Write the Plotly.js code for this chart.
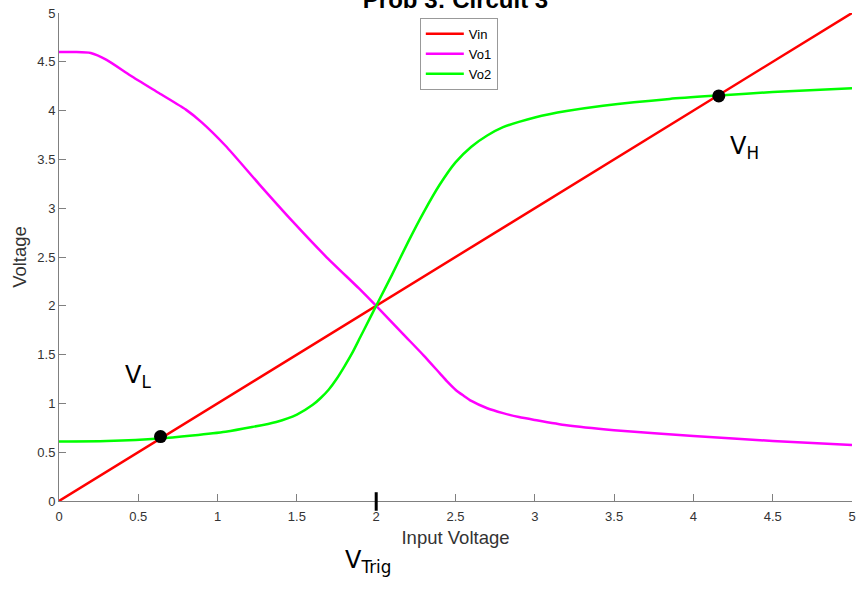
<!DOCTYPE html>
<html>
<head>
<meta charset="utf-8">
<script src="https://cdn.plot.ly/plotly-3.0.1.min.js"></script>
<style>html,body{margin:0;padding:0;background:#fff;}#chart{width:858px;height:596px;}</style>
</head>
<body>
<div id="chart"></div>
<script>
// Input voltage samples
const vinX = [0, 5];
const vinY = [0, 5];

const vo1X = [0, 0.1, 0.2, 0.3, 0.45, 0.63, 0.8, 0.9, 1.05, 1.26, 1.47, 1.68, 1.89, 2.0, 2.17, 2.3, 2.4, 2.45, 2.5, 2.55, 2.6, 2.7, 2.8, 2.9, 3.0, 3.2, 3.5, 4.0, 4.5, 5.0];
const vo1Y = [4.60, 4.60, 4.59, 4.52, 4.36, 4.18, 4.01, 3.88, 3.64, 3.25, 2.87, 2.51, 2.18, 2.0, 1.71, 1.49, 1.31, 1.22, 1.14, 1.08, 1.025, 0.95, 0.90, 0.86, 0.83, 0.775, 0.725, 0.665, 0.615, 0.575];

const vo2X = [0, 0.3, 0.63, 1.05, 1.37, 1.5, 1.6, 1.65, 1.7, 1.75, 1.8, 1.85, 1.9, 1.95, 2.0, 2.1, 2.2, 2.3, 2.4, 2.5, 2.6, 2.7, 2.8, 2.9, 3.0, 3.2, 3.43, 3.85, 4.16, 4.5, 5.0];
const vo2Y = [0.61, 0.615, 0.64, 0.71, 0.81, 0.885, 0.985, 1.055, 1.14, 1.25, 1.38, 1.52, 1.68, 1.84, 2.0, 2.32, 2.65, 2.96, 3.24, 3.47, 3.63, 3.745, 3.83, 3.885, 3.93, 3.995, 4.05, 4.12, 4.155, 4.19, 4.23];

// Hand-marked switching points (V_L, V_H)
const pointX = [0.64, 4.16];
const pointY = [0.66, 4.15];

const tickVals = [0, 0.5, 1, 1.5, 2, 2.5, 3, 3.5, 4, 4.5, 5];
const tickText = ['0', '0.5', '1', '1.5', '2', '2.5', '3', '3.5', '4', '4.5', '5'];

const traces = [
  {x: vinX, y: vinY, name: 'Vin', mode: 'lines', line: {color: '#ff0000', width: 2.5}},
  {x: vo1X, y: vo1Y, name: 'Vo1', mode: 'lines', line: {color: '#ff00ff', width: 2.5, shape: 'spline', smoothing: 0.6}},
  {x: vo2X, y: vo2Y, name: 'Vo2', mode: 'lines', line: {color: '#00ff00', width: 2.5, shape: 'spline', smoothing: 0.6}},
  {x: pointX, y: pointY, mode: 'markers', showlegend: false, marker: {color: '#000', size: 13}}
];

const axisCommon = {
  range: [0, 5], tickvals: tickVals, ticktext: tickText,
  showline: true, linecolor: '#808080', linewidth: 1,
  ticks: 'inside', ticklen: 7, tickcolor: '#808080',
  showgrid: false, zeroline: false,
  tickfont: {family: 'Liberation Sans, Arial, sans-serif', size: 13, color: '#333'}
};

const hand = {family: 'DejaVu Sans, sans-serif', size: 24, color: '#000'};

const layout = {
  width: 858, height: 596,
  margin: {l: 59, r: 6, t: 13, b: 95},
  paper_bgcolor: '#fff', plot_bgcolor: '#fff',
  title: {text: '<b>Prob 3: Circuit 3</b>', font: {family: 'Liberation Sans, Arial, sans-serif', size: 24, color: '#000'},
          xref: 'paper', x: 0.5, xanchor: 'center', yref: 'container', y: 1.0, yanchor: 'middle'},
  xaxis: Object.assign({}, axisCommon, {
    ticklabelstandoff: 3,
    title: {text: 'Input Voltage', standoff: 8, font: {family: 'Liberation Sans, Arial, sans-serif', size: 18.5, color: '#333'}}
  }),
  yaxis: Object.assign({}, axisCommon, {
    title: {text: 'Voltage', standoff: 5, font: {family: 'Liberation Sans, Arial, sans-serif', size: 18.5, color: '#333'}}
  }),
  legend: {
    x: 0.455, y: 0.99, xanchor: 'left', yanchor: 'top',
    bgcolor: '#fff', bordercolor: '#999', borderwidth: 1,
    font: {family: 'Liberation Sans, Arial, sans-serif', size: 13, color: '#000'},
    tracegroupgap: 0, itemwidth: 38
  },
  showlegend: true,
  annotations: [
    {xref: 'x', yref: 'y', x: 0.5, y: 1.28, text: 'V<sub>L</sub>', showarrow: false, font: hand},
    {xref: 'x', yref: 'y', x: 4.32, y: 3.62, text: 'V<sub>H</sub>', showarrow: false, font: hand},
    {xref: 'paper', yref: 'paper', x: 0.39, y: -0.16, text: 'V<sub>Trig</sub>', showarrow: false, font: hand}
  ],
  shapes: [
    {type: 'line', xref: 'paper', yref: 'paper', x0: 0.4, x1: 0.4, y0: 0.018, y1: -0.02, line: {color: '#000', width: 3}}
  ]
};

Plotly.newPlot('chart', traces, layout, {displayModeBar: false, staticPlot: true});
</script>
</body>
</html>
